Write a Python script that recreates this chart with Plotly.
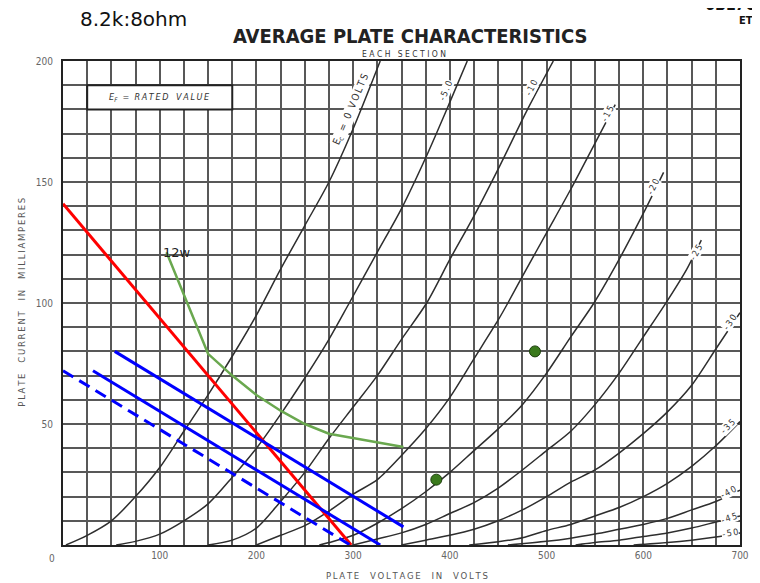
import plotly.graph_objects as go

# ---- Plate characteristic curves: plate voltage (V) vs plate current (mA) ----
ec0_v = [3, 25, 50, 75, 100, 125, 150, 175, 200, 225, 250, 275, 300, 328]
ec0_i = [0, 4, 10, 20, 32, 47, 62, 78, 95, 114, 132, 150, 172, 200]

ec5_v = [55, 75, 100, 125, 150, 175, 200, 225, 250, 275, 296, 325, 350, 375, 400, 418]
ec5_i = [0, 1.5, 4.5, 10, 17, 28, 40, 54, 69, 85, 100, 121, 139, 160, 183, 200]

ec10_v = [150, 175, 200, 225, 250, 275, 300, 325, 350, 376, 400, 425, 452, 479, 507]
ec10_i = [0, 2, 7, 18, 30, 44, 57, 70, 85, 100, 118, 136, 157, 179, 200]

ec15_v = [200, 225, 250, 275, 300, 325, 350, 375, 400, 425, 450, 460, 475, 500, 525, 550, 571]
ec15_i = [0, 4, 8, 14, 21, 27, 37, 48, 61, 77, 93, 100, 111, 129, 147, 166, 182]

ec20_v = [265, 275, 300, 325, 350, 375, 400, 425, 450, 475, 500, 525, 549, 575, 600, 621]
ec20_i = [0, 1, 4, 9, 15, 22, 30, 39, 48, 58, 71, 86, 100, 118, 137, 154]

ec25_v = [300, 325, 350, 375, 400, 425, 450, 475, 500, 525, 550, 575, 600, 625, 645, 660]
ec25_i = [0, 2.5, 5, 8.5, 13, 17.5, 23.5, 31, 39, 47, 58, 71, 86, 101, 114, 126]

ec30_v = [350, 375, 400, 425, 450, 475, 500, 525, 550, 575, 600, 625, 650, 675, 700]
ec30_i = [0, 2, 4, 6.5, 10, 14.5, 20, 26, 31, 38, 46, 55, 66, 81, 96]

ec35_v = [420, 450, 475, 500, 525, 550, 575, 600, 625, 650, 675, 700]
ec35_i = [0, 1.3, 3, 6, 8.5, 12, 15.5, 20, 25.5, 32.5, 41, 51]

ec40_v = [460, 500, 525, 550, 575, 600, 625, 650, 675, 700]
ec40_i = [0, 1.5, 2.8, 4.5, 6.5, 8.5, 11, 14.5, 18, 22.7]

ec45_v = [530, 550, 575, 600, 625, 650, 675, 700]
ec45_i = [0, 1, 2, 3.5, 5, 7, 9.5, 12]

ec50_v = [590, 625, 650, 675, 700]
ec50_i = [0, 1, 2, 3.3, 5]

curve_sets = [
    (ec0_v, ec0_i), (ec5_v, ec5_i), (ec10_v, ec10_i), (ec15_v, ec15_i),
    (ec20_v, ec20_i), (ec25_v, ec25_i), (ec30_v, ec30_i), (ec35_v, ec35_i),
    (ec40_v, ec40_i), (ec45_v, ec45_i), (ec50_v, ec50_i),
]

# curve labels: text, V, mA, angle
curve_labels = ["E<sub>c</sub> = 0 VOLTS", "-5.0", "-10", "-15", "-20", "-25",
                "-30", "-35", "-40", "-45", "-50"]
label_v = [298, 396, 484, 563, 610, 655, 690, 688, 688, 689, 690]
label_i = [180, 188, 189, 178, 148, 121, 92, 49, 22, 11, 5]
label_ang = [-67, -67, -63, -62, -63, -61, -56, -45, -28, -18, -10]

# ---- Overlay load lines ----
red_v = [0, 298]
red_i = [141, 0]

green_v = [107, 150, 175, 200, 225, 250, 275, 352]
green_i = [121, 79, 70, 62, 55.5, 50, 46, 40.5]

blue_upper_v = [53.5, 352]
blue_upper_i = [80, 7.5]
blue_lower_v = [31, 328]
blue_lower_i = [72, 0]
blue_dash_v = [0, 297]
blue_dash_i = [72, 0]

dots_v = [386, 488]
dots_i = [27, 80]

x_ticks = [100, 200, 300, 400, 500, 600, 700]
y_ticks = [50, 100, 150, 200]

GRID = "#585858"
CURVE = "#2e2e2e"
LABEL_FONT = "Liberation Sans Narrow, DejaVu Sans Condensed, Arial Narrow, sans-serif"


def spaced(s, sep="\u2009"):
    return sep.join(list(s))


fig = go.Figure()

for v, i in curve_sets:
    fig.add_trace(go.Scatter(x=v, y=i, mode="lines",
                             line=dict(color=CURVE, width=1.5, shape="spline", smoothing=0.8),
                             hoverinfo="skip"))

fig.add_trace(go.Scatter(x=red_v, y=red_i, mode="lines", line=dict(color="#ff0000", width=3)))
fig.add_trace(go.Scatter(x=green_v, y=green_i, mode="lines", line=dict(color="#6aa84f", width=2.5)))
fig.add_trace(go.Scatter(x=blue_upper_v, y=blue_upper_i, mode="lines", line=dict(color="#0000ff", width=3)))
fig.add_trace(go.Scatter(x=blue_lower_v, y=blue_lower_i, mode="lines", line=dict(color="#0000ff", width=3)))
fig.add_trace(go.Scatter(x=blue_dash_v, y=blue_dash_i, mode="lines",
                         line=dict(color="#0000ff", width=3, dash="12px,7px")))
fig.add_trace(go.Scatter(x=dots_v, y=dots_i, mode="markers",
                         marker=dict(size=11, color="#3a7a1c", line=dict(color="#1d3f0d", width=1))))

for t, v, i, a in zip(curve_labels, label_v, label_i, label_ang):
    if t.startswith("E"):
        txt = "E<sub>c</sub>  =  0  " + spaced("VOLTS")
        size = 10
    else:
        txt = spaced(t)
        size = 9
    fig.add_annotation(x=v, y=i, text=txt, showarrow=False, textangle=a, xanchor="center", yanchor="middle",
                       font=dict(size=size, color="#333", family=LABEL_FONT), bgcolor="white", borderpad=0)

# 12w label
fig.add_annotation(x=green_v[0], y=green_i[0], text="12w", showarrow=False, xanchor="left", yanchor="middle",
                   xshift=-5, font=dict(size=13, color="#222", family="DejaVu Sans, Arial"))

# E_F box
fig.add_shape(type="rect", x0=25, x1=175, y0=180, y1=190, line=dict(color="#222", width=2), fillcolor="white")
fig.add_annotation(x=100, y=185, xanchor="center", yanchor="middle",
                   text="<i>" + spaced("E") + "<sub>F</sub>  =  " + spaced("RATED") + "   " + spaced("VALUE") + "</i>",
                   showarrow=False, font=dict(size=9, color="#333", family=LABEL_FONT))


# Titles and texts (paper coordinates relative to the plot area)
def paper_note(x, y, text, size, color="#222", family=LABEL_FONT, xanchor="center", angle=0):
    fig.add_annotation(xref="paper", yref="paper", x=x, y=y, text=text, showarrow=False,
                       xanchor=xanchor, yanchor="middle", textangle=angle,
                       font=dict(size=size, color=color, family=family))


paper_note(0.5126, 1.0517, "<b>AVERAGE PLATE CHARACTERISTICS</b>", 20,
           family="Liberation Sans Narrow, DejaVu Sans Condensed, Arial Narrow")
paper_note(0.504, 1.0135, spaced("EACH", " ") + "   " + spaced("SECTION", " "), 8.5, color="#333")
paper_note(0.1045, 1.0868, "8.2k:8ohm", 20, color="#111", family="DejaVu Sans, Arial")
paper_note(0.945, 1.117, "<b>6BL7GTA</b>", 16, color="#111",
           family="Liberation Sans Narrow, DejaVu Sans Condensed", xanchor="left")
paper_note(0.995, 1.0847, "<b>ET</b>", 11, color="#111",
           family="Liberation Sans Narrow, DejaVu Sans Condensed", xanchor="left")
paper_note(-0.0625, 0.502,
           spaced("PLATE") + "    " + spaced("CURRENT") + "    " + spaced("IN") + "    " + spaced("MILLIAMPERES"),
           9.5, color="#555", angle=-90)
paper_note(0.508, -0.062,
           spaced("PLATE") + "    " + spaced("VOLTAGE") + "    " + spaced("IN") + "    " + spaced("VOLTS"),
           9.5, color="#555")
paper_note(-0.0167, -0.0269, "0", 10, color="#666")

fig.update_xaxes(range=[0, 700], tickmode="array", tickvals=x_ticks, ticktext=[str(t) for t in x_ticks],
                 showgrid=True, gridcolor=GRID, gridwidth=2.2,
                 minor=dict(tickmode="linear", tick0=0, dtick=25, showgrid=True, gridcolor=GRID, gridwidth=2.2),
                 showline=True, linecolor="#222", linewidth=2, mirror=True, zeroline=False,
                 ticks="", tickfont=dict(size=10, color="#666", family=LABEL_FONT))
fig.update_yaxes(range=[0, 200], tickmode="array", tickvals=y_ticks, ticktext=[str(t) for t in y_ticks],
                 showgrid=True, gridcolor=GRID, gridwidth=2.2,
                 minor=dict(tickmode="linear", tick0=0, dtick=10, showgrid=True, gridcolor=GRID, gridwidth=2.2),
                 showline=True, linecolor="#222", linewidth=2, mirror=True, zeroline=False,
                 ticks="", ticklabelstandoff=6, tickfont=dict(size=10, color="#666", family=LABEL_FONT))

fig.update_layout(width=760, height=583, margin=dict(l=55, r=28, t=53, b=46),
                  plot_bgcolor="white", paper_bgcolor="white", showlegend=False)

fig.write_html("out.html")
